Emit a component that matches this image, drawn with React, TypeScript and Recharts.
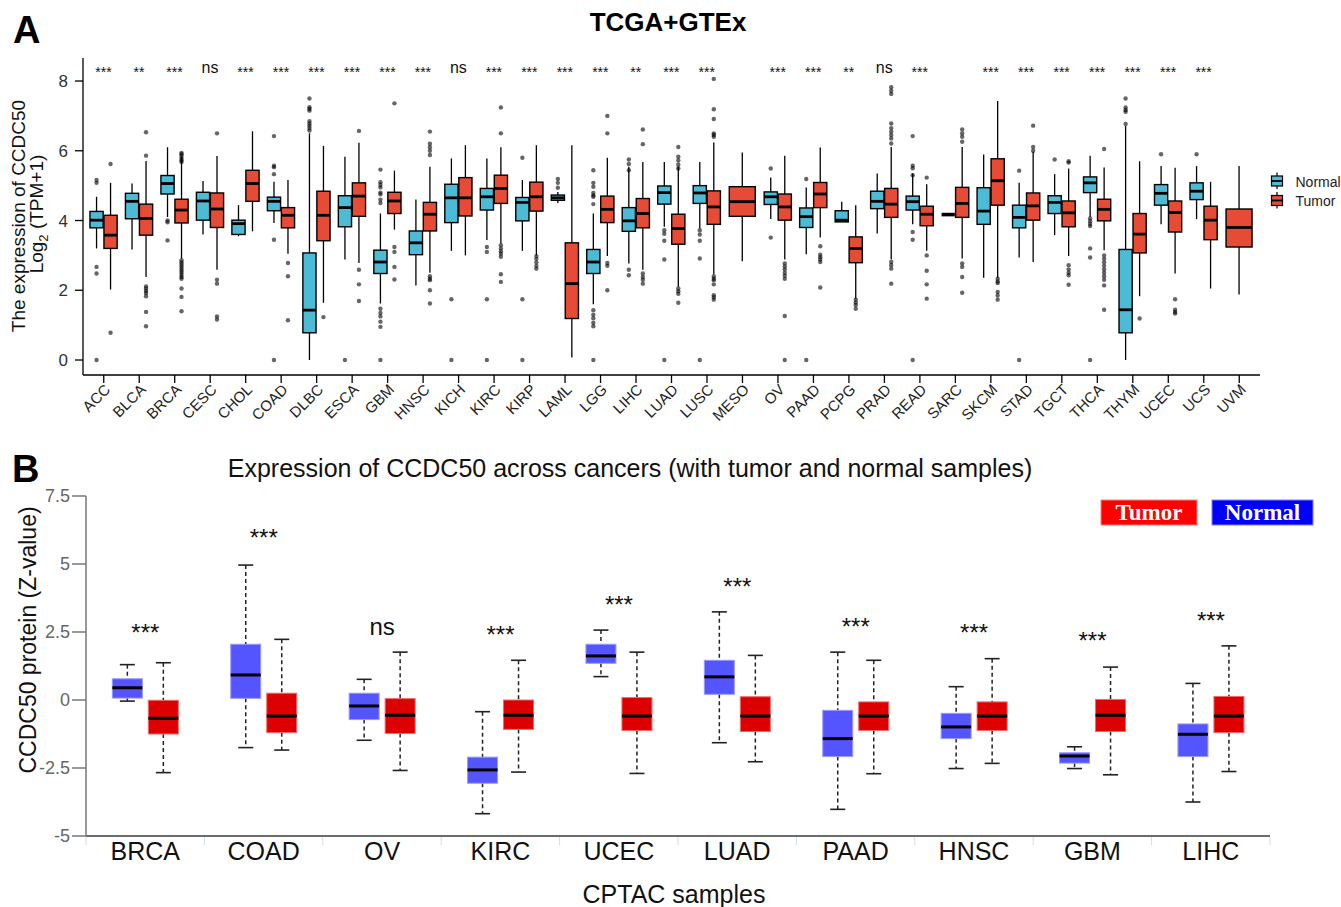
import React from 'react'
import { ComposedChart, Bar, XAxis, YAxis } from 'recharts'

// ---------------------------------------------------------------------------
// Panel A — TCGA+GTEx, log2(TPM+1). Box stats: [low whisker, q1, median, q3, high whisker]
// ---------------------------------------------------------------------------

const PAN_CANCERS = [
  'ACC', 'BLCA', 'BRCA', 'CESC', 'CHOL', 'COAD', 'DLBC', 'ESCA', 'GBM', 'HNSC', 'KICH',
  'KIRC', 'KIRP', 'LAML', 'LGG', 'LIHC', 'LUAD', 'LUSC', 'MESO', 'OV', 'PAAD', 'PCPG',
  'PRAD', 'READ', 'SARC', 'SKCM', 'STAD', 'TGCT', 'THCA', 'THYM', 'UCEC', 'UCS', 'UVM',
]

const PAN_NORMAL: (number[] | null)[] = [
  [3.2, 3.79, 4.01, 4.26, 4.68],
  [3.17, 4.05, 4.55, 4.78, 5.06],
  [4.1, 4.76, 5.06, 5.29, 6.1],
  [3.6, 4.01, 4.56, 4.81, 5.13],
  [3.55, 3.6, 3.91, 4.01, 4.44],
  [3.93, 4.28, 4.55, 4.67, 5.11],
  [0, 0.78, 1.43, 3.07, 6.5],
  [2.88, 3.82, 4.37, 4.71, 5.83],
  [1.62, 2.48, 2.81, 3.15, 4.2],
  [2.14, 3.02, 3.36, 3.7, 4.6],
  [3.13, 3.94, 4.65, 5.04, 5.78],
  [3.44, 4.3, 4.68, 4.92, 5.78],
  [3.13, 3.99, 4.52, 4.66, 5.16],
  [4.5, 4.58, 4.65, 4.73, 4.82],
  [1.6, 2.48, 2.81, 3.17, 4.2],
  [2.77, 3.69, 3.99, 4.37, 5.54],
  [3.82, 4.47, 4.8, 4.99, 5.68],
  [3.77, 4.49, 4.79, 5.0, 5.68],
  null,
  [4.04, 4.46, 4.68, 4.82, 5.23],
  [3.03, 3.8, 4.11, 4.36, 4.95],
  [3.96, 3.96, 4.01, 4.28, 4.54],
  [3.63, 4.34, 4.55, 4.84, 5.35],
  [3.89, 4.3, 4.54, 4.7, 5.35],
  [4.17, 4.17, 4.17, 4.17, 4.17],
  [2.36, 3.89, 4.27, 4.94, 5.89],
  [2.94, 3.79, 4.09, 4.44, 5.08],
  [3.58, 4.2, 4.52, 4.71, 5.33],
  [4.1, 4.8, 5.08, 5.25, 5.86],
  [0, 0.78, 1.44, 3.17, 6.71],
  [3.89, 4.44, 4.78, 5.03, 5.56],
  [4.04, 4.6, 4.84, 5.08, 5.56],
  null,
]

const PAN_TUMOR: number[][] = [
  [2.02, 3.2, 3.58, 4.15, 5.08],
  [2.38, 3.58, 4.06, 4.47, 5.71],
  [2.91, 3.93, 4.3, 4.61, 5.83],
  [2.59, 3.8, 4.33, 4.79, 5.85],
  [3.69, 4.55, 5.06, 5.44, 6.56],
  [3.05, 3.79, 4.15, 4.37, 5.16],
  [1.64, 3.42, 4.15, 4.84, 6.14],
  [2.78, 4.12, 4.7, 5.08, 6.23],
  [3.74, 4.2, 4.56, 4.81, 5.43],
  [2.5, 3.7, 4.18, 4.52, 5.54],
  [3.0, 4.13, 4.65, 5.23, 6.16],
  [3.34, 4.49, 4.92, 5.3, 6.1],
  [3.0, 4.27, 4.68, 5.1, 6.16],
  [0.07, 1.19, 2.19, 3.36, 6.16],
  [2.98, 3.94, 4.32, 4.7, 5.8],
  [2.59, 3.79, 4.2, 4.63, 5.68],
  [2.1, 3.32, 3.77, 4.18, 5.54],
  [2.46, 3.89, 4.39, 4.85, 6.24],
  [2.83, 4.12, 4.54, 4.97, 5.95],
  [2.88, 4.01, 4.39, 4.76, 5.86],
  [3.51, 4.37, 4.76, 5.09, 6.09],
  [1.76, 2.79, 3.2, 3.53, 4.44],
  [2.88, 4.09, 4.47, 4.92, 6.11],
  [3.13, 3.85, 4.18, 4.41, 5.04],
  [2.91, 4.09, 4.49, 4.95, 6.11],
  [2.36, 4.44, 5.14, 5.77, 7.43],
  [2.81, 4.01, 4.42, 4.79, 5.97],
  [2.98, 3.82, 4.22, 4.56, 5.49],
  [3.15, 3.99, 4.32, 4.61, 5.52],
  [1.83, 3.07, 3.61, 4.2, 5.7],
  [2.48, 3.67, 4.23, 4.56, 5.51],
  [2.05, 3.45, 4.01, 4.41, 5.11],
  [1.88, 3.24, 3.8, 4.33, 5.56],
]

const PAN_NORMAL_OUT: number[][] = [
  [5.16, 5.08, 2.67, 2.48, 0],
  [],
  [4.0, 3.95, 3.43],
  [],
  [],
  [6.42, 5.57, 5.53, 5.33, 3.45, 0],
  [7.5, 7.25, 7.2, 7.15, 6.85, 6.78, 6.72, 6.65, 6.58],
  [0],
  [5.46, 5.1, 5.02, 4.95, 4.8, 4.75, 4.6, 4.5, 1.47, 1.35, 1.25, 1.1, 0.95, 0],
  [],
  [1.74, 0],
  [3.24, 3.1, 1.74, 0],
  [5.8, 1.74, 0],
  [5.19, 5.08, 4.94],
  [5.44, 5.08, 4.97, 4.79, 4.72, 4.68, 4.47, 1.43, 1.3, 1.2, 1.07, 0.97, 0],
  [5.75, 5.62, 5.44, 2.59, 2.43],
  [3.72, 3.62, 3.42, 2.88, 0],
  [3.72, 3.6, 3.42, 2.91, 0],
  [],
  [5.49, 3.51],
  [5.19, 0],
  [],
  [],
  [6.42, 5.57, 5.5, 5.3, 3.67, 3.45, 0],
  [],
  [],
  [5.43, 0],
  [5.75],
  [4.06, 3.98, 3.9, 3.84, 3.2, 2.94, 0],
  [7.5, 7.24, 7.17, 7.12, 6.77],
  [5.9],
  [5.9],
  [],
]

const PAN_TUMOR_OUT: number[][] = [
  [5.62, 0.78],
  [6.53, 5.86, 2.11, 2.05, 1.98, 1.92, 1.83, 1.38, 0.97],
  [5.94, 5.9, 5.85, 5.78, 5.72, 5.68, 2.86, 2.8, 2.74, 2.68, 2.62, 2.56, 2.5, 2.44, 2.38, 2.33, 2.05, 1.81, 1.4],
  [6.5, 2.3, 2.19, 1.25, 1.16],
  [],
  [2.78, 2.4, 1.14],
  [1.23],
  [6.57, 2.59, 2.17, 1.69],
  [7.36, 3.24, 3.1, 2.67, 2.31],
  [6.55, 6.2, 6.1, 6.0, 5.88, 2.4, 2.33, 2.29, 2.0, 1.62],
  [],
  [7.24, 6.5, 3.29, 3.2, 3.12, 3.05, 2.96, 2.46, 2.24],
  [2.98, 2.9, 2.8, 2.7, 2.62],
  [],
  [7.0, 6.5, 2.78, 2.7, 2.0],
  [6.61, 6.19, 2.48, 2.38, 2.3, 2.19],
  [6.11, 5.83, 5.72, 5.6, 5.49, 2.05, 1.97, 1.9, 1.64],
  [8.06, 7.19, 6.91, 6.5, 6.45, 6.4, 2.4, 2.33, 2.29, 2.17, 1.86, 1.8, 1.73],
  [],
  [2.77, 2.68, 2.6, 2.5, 2.42, 2.33, 1.26, 0],
  [3.26, 3.02, 2.95, 2.88, 2.81, 2.08],
  [1.73, 1.65, 1.58, 1.47],
  [7.82, 7.72, 7.63, 6.78, 6.65, 6.55, 6.45, 6.35, 6.21, 2.81, 2.72, 2.62, 2.19],
  [5.23, 3.0, 2.56, 2.17, 1.76],
  [6.61, 6.5, 6.4, 6.26, 2.77, 2.67, 2.38, 1.93],
  [2.33, 2.25, 2.21, 1.95, 1.85, 1.73],
  [6.72, 6.11, 6.0],
  [5.7, 5.66, 2.72, 2.6, 2.5, 2.43, 2.16],
  [6.05, 3.0, 2.9, 2.8, 2.7, 2.6, 2.5, 2.4, 2.3, 2.14, 1.44],
  [1.19],
  [1.74, 1.44, 1.38, 1.33],
  [],
  [],
]

const PAN_SIG = [
  '***', '**', '***', 'ns', '***', '***', '***', '***', '***', '***', 'ns',
  '***', '***', '***', '***', '**', '***', '***', '', '***', '***', '**',
  'ns', '***', '', '***', '***', '***', '***', '***', '***', '***', '',
]

const PAN_TICKS = [0, 2, 4, 6, 8]
const PAN_SIG_LEVEL = 8.34

// ---------------------------------------------------------------------------
// Panel B — CPTAC protein Z-values
// ---------------------------------------------------------------------------

const PROT_CANCERS = ['BRCA', 'COAD', 'OV', 'KIRC', 'UCEC', 'LUAD', 'PAAD', 'HNSC', 'GBM', 'LIHC']

const PROT_NORMAL: number[][] = [
  [-0.04, 0.07, 0.45, 0.78, 1.3],
  [-1.75, 0.06, 0.92, 2.05, 4.96],
  [-1.48, -0.72, -0.22, 0.25, 0.76],
  [-4.18, -3.06, -2.57, -2.1, -0.43],
  [0.86, 1.35, 1.62, 2.05, 2.57],
  [-1.57, 0.21, 0.85, 1.46, 3.24],
  [-4.02, -2.08, -1.42, -0.38, 1.76],
  [-2.52, -1.42, -0.99, -0.49, 0.49],
  [-2.52, -2.32, -2.06, -1.94, -1.72],
  [-3.75, -2.08, -1.26, -0.88, 0.61],
]

const PROT_TUMOR: number[][] = [
  [-2.67, -1.25, -0.67, -0.01, 1.37],
  [-1.84, -1.2, -0.59, 0.25, 2.23],
  [-2.59, -1.23, -0.56, 0.05, 1.76],
  [-2.65, -1.08, -0.56, 0, 1.46],
  [-2.7, -1.12, -0.59, 0.09, 1.76],
  [-2.27, -1.16, -0.59, 0.12, 1.64],
  [-2.71, -1.12, -0.59, -0.07, 1.46],
  [-2.33, -1.12, -0.59, -0.07, 1.52],
  [-2.75, -1.16, -0.56, 0.02, 1.21],
  [-2.63, -1.2, -0.59, 0.13, 1.99],
]

const PROT_SIG = ['***', '***', 'ns', '***', '***', '***', '***', '***', '***', '***']
const PROT_SIG_Y = [2.67, 6.16, 2.63, 2.6, 3.7, 4.36, 2.89, 2.67, 2.38, 3.11]
const PROT_TICKS = [-5, -2.5, 0, 2.5, 5, 7.5]

// ---------------------------------------------------------------------------
// Styling
// ---------------------------------------------------------------------------

const FONT = '"Liberation Sans", Arial, Helvetica, sans-serif'
const NARROW = '"Liberation Sans Narrow", "Liberation Sans", Arial, sans-serif'
const SERIF = '"Liberation Serif", "Times New Roman", serif'

const NPG_RED = '#E64B35'
const NPG_BLUE = '#4DBBD5'
const CPTAC_RED = '#DD0000'
const CPTAC_BLUE = '#5555FF'

const A_MIN = -0.43
const A_MAX = 8.66
const B_MIN = -5
const B_MAX = 7.5

// panel B category width (plot 86..1270 split in 10) — used for the faint separators
const B_BAND = (1270 - 86) / PROT_CANCERS.length

const panRows = PAN_CANCERS.map((name, i) => ({
  name,
  normal: PAN_NORMAL[i],
  tumor: PAN_TUMOR[i],
  normalOut: PAN_NORMAL_OUT[i],
  tumorOut: PAN_TUMOR_OUT[i],
  sig: PAN_SIG[i],
}))

const protRows = PROT_CANCERS.map((name, i) => ({
  name,
  normal: PROT_NORMAL[i],
  tumor: PROT_TUMOR[i],
  sig: PROT_SIG[i],
  sigY: PROT_SIG_Y[i],
}))

// Bars span the whole y domain, so their geometry gives the axis scale
function scaleFrom(y: number, height: number, lo: number, hi: number) {
  return (v: number) => y + ((hi - v) / (hi - lo)) * height
}

function panBox(
  key: string,
  s: number[] | null,
  out: number[],
  cx: number,
  half: number,
  fill: string,
  toY: (v: number) => number,
) {
  if (!s) return null
  const [lo, q1, med, q3, hi] = s
  return (
    <g key={key}>
      <line x1={cx} x2={cx} y1={toY(hi)} y2={toY(lo)} stroke="#000" strokeWidth={1.3} />
      {q3 > q1 && (
        <rect
          x={cx - half}
          y={toY(q3)}
          width={half * 2}
          height={toY(q1) - toY(q3)}
          fill={fill}
          stroke="#000"
          strokeWidth={1.4}
        />
      )}
      <line x1={cx - half} x2={cx + half} y1={toY(med)} y2={toY(med)} stroke="#000" strokeWidth={q3 > q1 ? 2.8 : 3.6} />
      {out.map((v, i) => (
        <circle key={i} cx={cx} cy={toY(v)} r={2.2} fill="#000" fillOpacity={0.6} />
      ))}
    </g>
  )
}

function PanShape(props: any) {
  const { x, y, width, height, payload } = props
  const toY = scaleFrom(y, height, A_MIN, A_MAX)
  const cx = x + width / 2
  const single = !payload.normal
  const ns = payload.sig === 'ns'
  return (
    <g>
      {panBox('n', payload.normal, payload.normalOut, cx - 7, 6.6, NPG_BLUE, toY)}
      {panBox('t', payload.tumor, payload.tumorOut, single ? cx : cx + 7, single ? 13 : 6.6, NPG_RED, toY)}
      {payload.sig && (
        <text
          x={cx}
          y={toY(PAN_SIG_LEVEL) + (ns ? 4.2 : 8)}
          textAnchor="middle"
          fontSize={ns ? 16 : 14}
          fontFamily={FONT}
          fill="#111"
        >
          {payload.sig}
        </text>
      )}
    </g>
  )
}

function cptacBox(key: string, s: number[], cx: number, fill: string, edge: string, toY: (v: number) => number) {
  const [lo, q1, med, q3, hi] = s
  const half = 15
  const cap = 7.5
  return (
    <g key={key}>
      <line x1={cx} x2={cx} y1={toY(hi)} y2={toY(q3)} stroke="#222" strokeWidth={1.5} strokeDasharray="4 3" />
      <line x1={cx} x2={cx} y1={toY(q1)} y2={toY(lo)} stroke="#222" strokeWidth={1.5} strokeDasharray="4 3" />
      <line x1={cx - cap} x2={cx + cap} y1={toY(hi)} y2={toY(hi)} stroke="#222" strokeWidth={1.6} />
      <line x1={cx - cap} x2={cx + cap} y1={toY(lo)} y2={toY(lo)} stroke="#222" strokeWidth={1.6} />
      <rect
        x={cx - half}
        y={toY(q3)}
        width={half * 2}
        height={toY(q1) - toY(q3)}
        fill={fill}
        stroke={edge}
        strokeWidth={1}
      />
      <line x1={cx - half} x2={cx + half} y1={toY(med)} y2={toY(med)} stroke="#000" strokeWidth={3} />
    </g>
  )
}

function CptacShape(props: any) {
  const { x, y, width, height, payload } = props
  const toY = scaleFrom(y, height, B_MIN, B_MAX)
  const cx = x + width / 2
  const ns = payload.sig === 'ns'
  return (
    <g>
      {cptacBox('n', payload.normal, cx - 18, CPTAC_BLUE, '#9999FF', toY)}
      {cptacBox('t', payload.tumor, cx + 18, CPTAC_RED, '#F06A6A', toY)}
      <text
        x={cx}
        y={toY(payload.sigY) + (ns ? 6.5 : 13.5)}
        textAnchor="middle"
        fontSize={24}
        fontFamily={FONT}
        fill="#111"
      >
        {payload.sig}
      </text>
    </g>
  )
}

function PanTick(props: any) {
  const { x, y, payload } = props
  return (
    <text
      x={x}
      y={y}
      transform={`rotate(-45 ${x} ${y})`}
      textAnchor="end"
      dy="0.71em"
      fontSize={15}
      fontFamily={FONT}
      fill="#222"
    >
      {payload.value}
    </text>
  )
}

function CptacTick(props: any) {
  const { x, y, payload, index } = props
  const last = index === PROT_CANCERS.length - 1
  return (
    <g>
      <line x1={x - B_BAND / 2} x2={x - B_BAND / 2} y1={y - 5} y2={y + 3} stroke="#cddcee" strokeWidth={1} />
      {last && (
        <line x1={x + B_BAND / 2} x2={x + B_BAND / 2} y1={y - 5} y2={y + 3} stroke="#cddcee" strokeWidth={1} />
      )}
      <text x={x} y={y} dy="0.71em" textAnchor="middle" fontSize={25} fontFamily={FONT} fill="#111">
        {payload.value}
      </text>
    </g>
  )
}

function PanLegendKey({ y, fill }: { y: number; fill: string }) {
  return (
    <g>
      <line x1={1277} x2={1277} y1={y - 8.5} y2={y + 8} stroke="#000" strokeWidth={1.2} />
      <rect x={1271.5} y={y - 5} width={11} height={10} fill={fill} stroke="#000" strokeWidth={1.2} />
      <line x1={1271.5} x2={1282.5} y1={y} y2={y} stroke="#000" strokeWidth={1.8} />
    </g>
  )
}

export default function App() {
  return (
    <div style={{ position: 'absolute', left: 0, top: 0, width: 1341, height: 907, background: '#fff' }}>
      <div style={{ position: 'absolute', left: 0, top: 0 }}>
        <ComposedChart width={1341} height={450} data={panRows} margin={{ top: 58, right: 81, bottom: 15, left: 38 }}>
          <XAxis
            dataKey="name"
            type="category"
            interval={0}
            height={60}
            padding={{ left: 3, right: 3 }}
            tickSize={8}
            tickMargin={0}
            axisLine={{ stroke: '#000', strokeWidth: 1.3 }}
            tickLine={{ stroke: '#000', strokeWidth: 1.3 }}
            tick={(p: any) => <PanTick {...p} />}
          />
          <YAxis
            type="number"
            domain={[A_MIN, A_MAX]}
            allowDataOverflow
            ticks={PAN_TICKS}
            width={45}
            tickSize={8}
            tickMargin={7}
            axisLine={{ stroke: '#000', strokeWidth: 1.3 }}
            tickLine={{ stroke: '#000', strokeWidth: 1.3 }}
            tick={{ fill: '#333', fontSize: 17, fontFamily: FONT }}
          />
          <Bar dataKey={() => [A_MIN, A_MAX]} shape={PanShape} isAnimationActive={false} />
        </ComposedChart>
      </div>

      <div style={{ position: 'absolute', left: 0, top: 450 }}>
        <ComposedChart width={1341} height={457} data={protRows} margin={{ top: 46, right: 71, bottom: 31, left: 36 }}>
          <XAxis
            dataKey="name"
            type="category"
            interval={0}
            height={40}
            tickSize={0}
            tickMargin={6}
            axisLine={{ stroke: '#6b6b6b', strokeWidth: 2 }}
            tickLine={false}
            tick={(p: any) => <CptacTick {...p} />}
          />
          <YAxis
            type="number"
            domain={[B_MIN, B_MAX]}
            allowDataOverflow
            ticks={PROT_TICKS}
            width={50}
            tickSize={14}
            tickMargin={2}
            axisLine={{ stroke: '#777', strokeWidth: 1.5 }}
            tickLine={{ stroke: '#777', strokeWidth: 1.5 }}
            tick={{ fill: '#666', fontSize: 18, fontFamily: NARROW }}
          />
          <Bar dataKey={() => [B_MIN, B_MAX]} shape={CptacShape} isAnimationActive={false} />
        </ComposedChart>
      </div>

      <svg
        width={1341}
        height={907}
        style={{ position: 'absolute', left: 0, top: 0, pointerEvents: 'none' }}
        fontFamily={FONT}
      >
        {/* panel A */}
        <text x={13} y={43} fontSize={38} fontWeight="bold" fill="#000">A</text>
        <text x={668} y={31} fontSize={26} fontWeight="bold" textAnchor="middle" fill="#000">TCGA+GTEx</text>
        <text x={25} y={216} fontSize={19} textAnchor="middle" transform="rotate(-90 25 216)" fill="#111">
          The expression of CCDC50
        </text>
        <text x={43} y={214} fontSize={19} textAnchor="middle" transform="rotate(-90 43 214)" fill="#111">
          Log<tspan fontSize={13} dy={5}>2</tspan>
          <tspan dy={-5}> (TPM+1)</tspan>
        </text>
        <PanLegendKey y={181} fill={NPG_BLUE} />
        <PanLegendKey y={200.5} fill={NPG_RED} />
        <text x={1295.5} y={186.5} fontSize={14} fill="#222">Normal</text>
        <text x={1295.5} y={206} fontSize={14} fill="#222">Tumor</text>

        {/* panel B */}
        <text x={12} y={482} fontSize={38} fontWeight="bold" fill="#000">B</text>
        <text x={630} y={477} fontSize={25} textAnchor="middle" fill="#111">
          Expression of CCDC50 across cancers (with tumor and normal samples)
        </text>
        <text x={36} y={640} fontSize={23} textAnchor="middle" transform="rotate(-90 36 640)" fill="#111">
          CCDC50 protein (Z-value)
        </text>
        <text x={674} y={903} fontSize={25} textAnchor="middle" fill="#111">CPTAC samples</text>
        <rect x={1101} y={500} width={96} height={25} fill="#FF0000" stroke="#ff8080" strokeWidth={1} />
        <text x={1149} y={520} fontSize={23} fontWeight="bold" fontFamily={SERIF} textAnchor="middle" fill="#fff">
          Tumor
        </text>
        <rect x={1212} y={500} width={101} height={25} fill="#0000FF" stroke="#8080ff" strokeWidth={1} />
        <text x={1262.5} y={520} fontSize={23} fontWeight="bold" fontFamily={SERIF} textAnchor="middle" fill="#fff">
          Normal
        </text>
      </svg>
    </div>
  )
}
